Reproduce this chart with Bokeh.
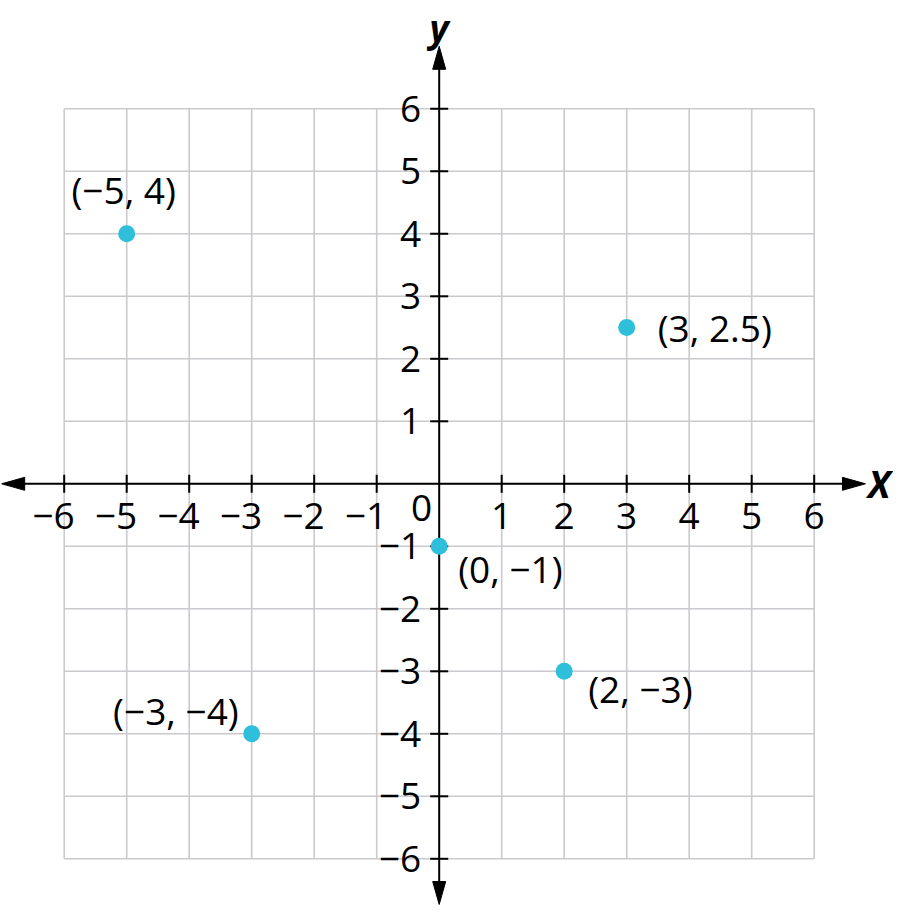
from bokeh.plotting import figure
from bokeh.models import Range1d
from bokeh.embed import file_html
from bokeh.resources import INLINE
from bokeh.core.properties import value

# ---- data ----
point_x = [-5, 3, 0, 2, -3]
point_y = [4, 2.5, -1, -3, -4]
point_labels = ["(\u22125, 4)", "(3, 2.5)", "(0, \u22121)", "(2, \u22123)", "(\u22123, \u22124)"]
tick_values = [-6, -5, -4, -3, -2, -1, 1, 2, 3, 4, 5, 6]
tick_labels = ["\u22126", "\u22125", "\u22124", "\u22123", "\u22122", "\u22121", "1", "2", "3", "4", "5", "6"]
grid_values = list(range(-6, 7))

# ---- layout / style ----
W, H = 893, 905
SCALE = 62.5           # px per unit
X0_PX, Y0_PX = 438.7, 483.3  # canvas position of origin
PX = 1.0 / SCALE
FONT = value("Open Sans")
FS = "37px"
GRID_COLOR = "#CACACE"
POINT_COLOR = "#2FBFDB"

x_start = -X0_PX / SCALE
x_end = (W - X0_PX) / SCALE
y_end = Y0_PX / SCALE
y_start = -(H - Y0_PX) / SCALE

p = figure(width=W, height=H, output_backend="svg", toolbar_location=None,
           x_range=Range1d(x_start, x_end), y_range=Range1d(y_start, y_end),
           x_axis_type=None, y_axis_type=None, min_border=0,
           outline_line_color=None, background_fill_color="white",
           border_fill_color="white")
p.grid.visible = False

gmin, gmax = min(grid_values), max(grid_values)
# grid
p.segment(x0=grid_values, y0=[gmin] * len(grid_values), x1=grid_values, y1=[gmax] * len(grid_values),
          line_color=GRID_COLOR, line_width=1.6)
p.segment(x0=[gmin] * len(grid_values), y0=grid_values, x1=[gmax] * len(grid_values), y1=grid_values,
          line_color=GRID_COLOR, line_width=1.6)

# axes
left_tip, right_tip, top_tip, bottom_tip = -7.0, 6.82, 7.0, y_start + 1 * PX
p.segment(x0=[left_tip + 10 * PX, 0], y0=[0, bottom_tip + 10 * PX],
          x1=[right_tip - 10 * PX, 0], y1=[0, top_tip - 10 * PX],
          line_color="black", line_width=2)
HL, HW = 23 * PX, 6.5 * PX
p.patches(xs=[[left_tip, left_tip + HL, left_tip + HL],
              [right_tip, right_tip - HL, right_tip - HL],
              [0, -HW, HW],
              [0, -HW, HW]],
          ys=[[0, HW, -HW],
              [0, HW, -HW],
              [top_tip, top_tip - HL, top_tip - HL],
              [bottom_tip, bottom_tip + HL, bottom_tip + HL]],
          fill_color="black", line_color="black", line_width=1)

# tick marks
TK = 9 * PX
p.segment(x0=tick_values, y0=[-TK] * len(tick_values), x1=tick_values, y1=[TK] * len(tick_values),
          line_color="black", line_width=2)
p.segment(x0=[-TK] * len(tick_values), y0=tick_values, x1=[TK] * len(tick_values), y1=tick_values,
          line_color="black", line_width=2)

# tick labels
p.text(x=[v + 10.5 * PX for v in tick_values], y=[-32 * PX] * len(tick_values), text=tick_labels,
       text_font=FONT, text_font_size=FS, text_align="right", text_baseline="middle",
       text_color="black")
p.text(x=[-18 * PX] * len(tick_values), y=tick_values, text=tick_labels,
       text_font=FONT, text_font_size=FS, text_align="right", text_baseline="middle",
       text_color="black")
p.text(x=[-7 * PX], y=[-24 * PX], text=["0"],
       text_font=FONT, text_font_size=FS, text_align="right", text_baseline="middle",
       text_color="black")

# axis titles
p.text(x=[0], y=[7.3], text=["y"], text_font=FONT, text_font_size=FS,
       text_font_style="bold italic", text_align="center", text_baseline="middle")
p.text(x=[7.04], y=[0], text=["X"], text_font=FONT, text_font_size=FS,
       text_font_style="bold italic", text_align="center", text_baseline="middle")

# points
p.scatter(x=point_x, y=point_y, size=17, fill_color=POINT_COLOR, line_color=None)

# point labels: (dx px, dy px, align)
label_layout = [(-3, 44, "center"), (31, 0, "left"), (19, -22, "left"), (24, -17, "left"), (-13, 23, "right")]
for px_, py_, lab, (dx, dy, al) in zip(point_x, point_y, point_labels, label_layout):
    p.text(x=[px_ + dx * PX], y=[py_ + dy * PX], text=[lab], text_font=FONT, text_font_size=FS,
           text_align=al, text_baseline="middle", text_color="black")

open("out.html", "w").write(file_html(p, INLINE))
